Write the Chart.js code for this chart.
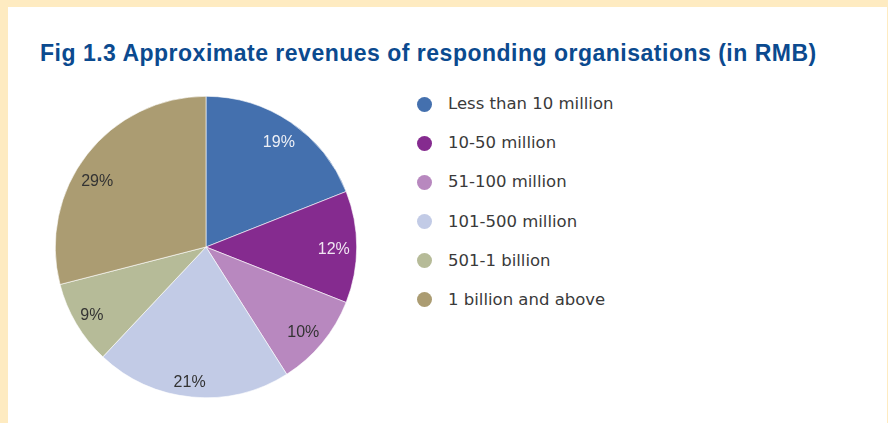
<!DOCTYPE html>
<html>
<head>
<meta charset="utf-8">
<script src="https://cdn.jsdelivr.net/npm/chart.js@4/dist/chart.umd.min.js"></script>
<style>
  html, body { margin: 0; padding: 0; }
  body { width: 888px; height: 423px; background: #feebc1; position: relative; overflow: hidden; font-family: "Liberation Sans", Arial, sans-serif; }
  #panel { position: absolute; left: 8px; top: 7px; width: 879px; height: 416px; background: #ffffff; }
  #title { position: absolute; left: 40px; top: 41.5px; margin: 0; font-size: 23px; line-height: 23px; letter-spacing: 0.5px; font-weight: bold; color: #0b4a8f; white-space: nowrap; }
  #pieBox { position: absolute; left: 55px; top: 96px; width: 302px; height: 302px; }
  #legend { position: absolute; left: 417px; top: 92px; margin: 0; padding: 0; list-style: none; }
  #legend li { height: 39.2px; display: flex; align-items: flex-start; font-family: "DejaVu Sans", sans-serif; font-size: 16.5px; color: #3a3a3a; line-height: 24px; }
  #legend .dot { width: 15px; height: 15px; border-radius: 50%; margin: 4.5px 16px 0 0; flex: none; }
</style>
</head>
<body>
<div id="panel"></div>
<h1 id="title">Fig 1.3 Approximate revenues of responding organisations (in RMB)</h1>
<div id="pieBox"><canvas id="pie"></canvas></div>
<ul id="legend"></ul>
<script>
const categories = ["Less than 10 million", "10-50 million", "51-100 million", "101-500 million", "501-1 billion", "1 billion and above"];
const shares = [19, 12, 10, 21, 9, 29];
const sliceColors = ["#4470ae", "#852b8f", "#b888bf", "#c2cbe6", "#b6bb98", "#ab9c72"];
const labelColors = ["#eef0f6", "#f0e6f2", "#333333", "#333333", "#333333", "#333333"];

// where each percentage sits inside its slice: fraction of the radius, and a turn (degrees) off the mid-angle
const labelRadius = [0.845, 0.848, 0.861, 0.904, 0.885, 0.844];
const labelTurn = [0.7, 1.1, 1.8, 1.5, -0.5, -6.6];

const sliceLabels = {
  id: "sliceLabels",
  afterDatasetsDraw(chart) {
    const ctx = chart.ctx;
    const meta = chart.getDatasetMeta(0);
    ctx.save();
    ctx.font = "16px 'Liberation Sans', Arial, sans-serif";
    ctx.textAlign = "center";
    ctx.textBaseline = "middle";
    meta.data.forEach((arc, i) => {
      const p = arc.getProps(["x", "y", "startAngle", "endAngle", "outerRadius"], true);
      const mid = (p.startAngle + p.endAngle) / 2 + labelTurn[i] * Math.PI / 180;
      const r = p.outerRadius * labelRadius[i];
      ctx.fillStyle = labelColors[i];
      ctx.fillText(shares[i] + "%", p.x + Math.cos(mid) * r, p.y + Math.sin(mid) * r);
    });
    ctx.restore();
  }
};

new Chart(document.getElementById("pie"), {
  type: "pie",
  data: {
    labels: categories,
    datasets: [{
      data: shares,
      backgroundColor: sliceColors,
      borderColor: "#ffffff",
      borderWidth: 0.6,
      hoverOffset: 0
    }]
  },
  options: {
    responsive: true,
    maintainAspectRatio: false,
    animation: false,
    layout: { padding: 0 },
    plugins: { legend: { display: false }, tooltip: { enabled: false } }
  },
  plugins: [sliceLabels]
});

const legend = document.getElementById("legend");
categories.forEach((name, i) => {
  const li = document.createElement("li");
  const dot = document.createElement("span");
  dot.className = "dot";
  dot.style.background = sliceColors[i];
  li.appendChild(dot);
  li.appendChild(document.createTextNode(name));
  legend.appendChild(li);
});
</script>
</body>
</html>
